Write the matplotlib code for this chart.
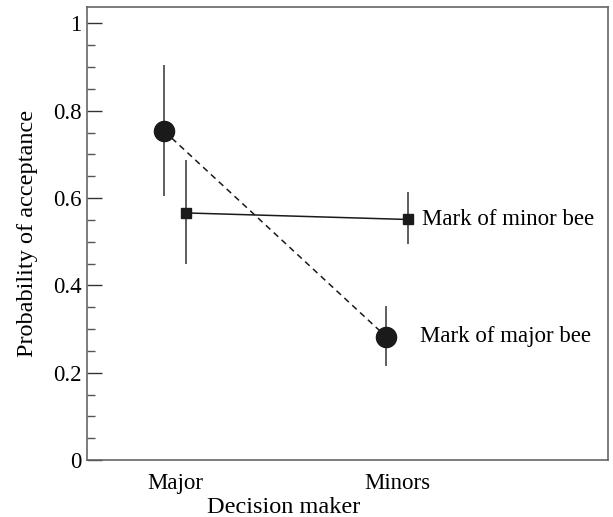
import matplotlib.pyplot as plt
from matplotlib.ticker import MultipleLocator

# decision maker categories (x positions 1, 2)
categories = ["Major", "Minors"]
cat_pos = [1, 2]

# mark of major bee (circles, dashed)
major_mark = [0.754, 0.283]
major_lo = [0.604, 0.215]
major_hi = [0.905, 0.354]

# mark of minor bee (squares, solid)
minor_mark = [0.566, 0.551]
minor_lo = [0.448, 0.495]
minor_hi = [0.687, 0.614]

offset = 0.05
fs = 16.5

plt.rcParams["font.family"] = ["Liberation Serif", "DejaVu Serif"]

fig = plt.figure(figsize=(6.13, 5.17), dpi=100)
ax = fig.add_axes([0.142, 0.110, 0.850, 0.876])

xc = [p - offset for p in cat_pos]
xs = [p + offset for p in cat_pos]

ax.errorbar(xc, major_mark,
            yerr=[[m - l for m, l in zip(major_mark, major_lo)],
                  [h - m for m, h in zip(major_mark, major_hi)]],
            fmt="o", color="#1a1a1a", ecolor="#333333", elinewidth=1.1,
            markersize=14.5, capsize=0, zorder=3)
ax.plot(xc, major_mark, linestyle=(0, (4, 3)), color="#1a1a1a", lw=1.1, zorder=2)

ax.errorbar(xs, minor_mark,
            yerr=[[m - l for m, l in zip(minor_mark, minor_lo)],
                  [h - m for m, h in zip(minor_mark, minor_hi)]],
            fmt="s", color="#1a1a1a", ecolor="#333333", elinewidth=1.1,
            markersize=7.5, capsize=0, zorder=3)
ax.plot(xs, minor_mark, linestyle="-", color="#1a1a1a", lw=1.1, zorder=2)

ax.text(xs[1] + 0.063, minor_mark[1], "Mark of minor bee", fontsize=fs,
        va="center", ha="left")
ax.text(xs[1] + 0.053, major_mark[1], "Mark of major bee", fontsize=fs,
        va="center", ha="left")

ax.set_xlim(0.604, 2.95)
ax.set_ylim(0, 1.037)
ax.set_xticks(cat_pos)
ax.set_xticklabels(categories, fontsize=fs)
ax.tick_params(axis="x", length=0, pad=9)

ax.yaxis.set_major_locator(MultipleLocator(0.2))
ax.yaxis.set_minor_locator(MultipleLocator(0.05))
ax.set_yticks([0, 0.2, 0.4, 0.6, 0.8, 1.0])
ax.set_yticklabels(["0", "0.2", "0.4", "0.6", "0.8", "1"], fontsize=fs)
ax.tick_params(axis="y", which="major", direction="in", length=11, width=1,
               color="#333333", pad=4)
ax.tick_params(axis="y", which="minor", direction="in", length=6, width=1,
               color="#555555")

for s in ax.spines.values():
    s.set_color("#666666")
    s.set_linewidth(1.2)

ax.set_xlabel("Decision maker", fontsize=17.5)
ax.xaxis.set_label_coords(0.378, -0.082)
ax.xaxis.label.set_va("top")
ax.set_ylabel("Probability of acceptance", fontsize=17.5)
ax.yaxis.set_label_coords(-0.095, 0.5)

fig.savefig("out.png", dpi=100)
